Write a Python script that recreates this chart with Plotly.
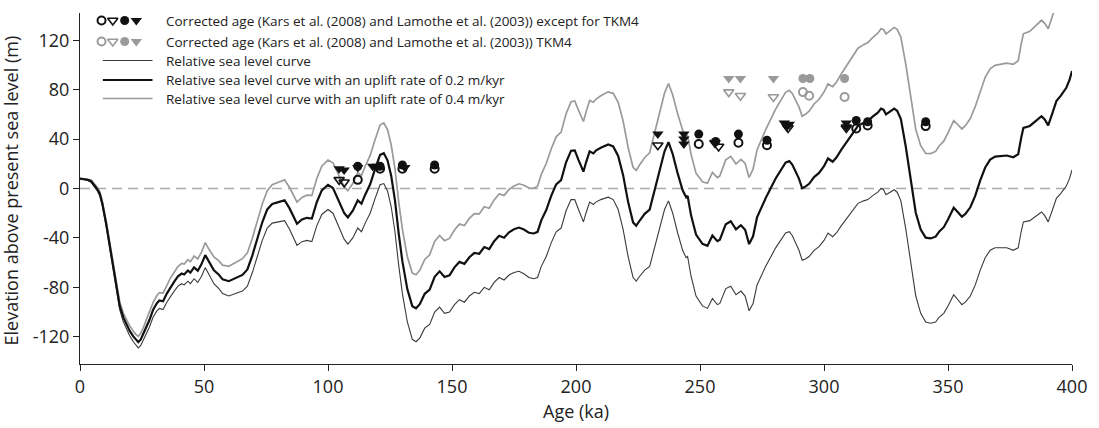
import plotly.graph_objects as go

# ---------------- data ----------------
age = [0, 1.5, 3, 4.5, 6, 7, 8, 9, 10.5, 12, 13.5, 15, 16, 17.5, 19, 20, 21.5, 22.5, 23.5, 24.5,
       25.5, 26.5, 28, 29.5, 31, 32, 33.5, 35, 36.5, 38, 39.5, 41, 42, 43.5, 44.5, 46, 47.5, 49, 50.5, 52,
       54, 56, 57.5, 60, 62.5, 65.5, 67.5, 69.5, 71.5, 73.5, 75.5, 77.5, 80, 82.5, 84.5, 87.5, 89.5, 91.5, 93.5, 95.5,
       97.5, 100, 102, 104, 106.5, 108, 110, 112, 113.5, 115, 117, 119, 121, 122.5, 124, 125.5, 127, 128.5, 130, 132,
       134, 135.5, 137, 139, 141, 143, 145, 147, 149, 151, 153, 155, 157, 159, 161, 163, 165, 167, 169, 171,
       173, 175, 177, 179, 181, 183, 184.5, 186, 188, 190, 192, 194, 196, 198, 199.5, 201, 203, 204, 205.5, 207,
       208, 210, 213, 215, 217, 219, 221, 223, 224.3, 225.7, 227.7, 229.7, 231.7, 233.7, 235.7, 237.3, 239, 241, 243, 244.4,
       245, 246.4, 248.4, 251, 253, 255, 257, 258, 260.4, 262.4, 264.5, 266.5, 268.2, 269.8, 271.4, 273, 276.5, 280.5, 284.5, 286,
       287.2, 289.9, 291.2, 292.5, 294, 296, 298, 300, 301.6, 303.5, 305, 307, 309.6, 311.5, 313.7, 316, 317.7, 319.5, 321.7, 323,
       324, 325, 326.5, 328.3, 329.5, 331, 333, 335, 337, 339, 341, 343, 345, 346.5, 348.3, 350, 352.3, 354, 355.6, 357,
       359, 361, 363, 365, 367, 369, 371, 373.7, 376.3, 378.3, 379.5, 380.4, 383, 385, 387.7, 389, 390.4, 392, 393.7, 395.5,
       397.7, 399, 400]

rsl = [8, 7.5, 6.5, 5, 1, -2, -6, -14, -30, -48, -67, -85, -98, -108, -115, -119, -124, -127, -129, -127,
       -123, -118, -112, -104, -99, -97, -98, -92, -87, -83, -79, -77, -78, -75, -77, -73, -76, -71, -64, -70,
       -77, -81, -85, -87, -85, -83, -79, -68, -55, -42, -32, -28, -27, -26, -33, -46, -43, -42, -43, -30,
       -21, -17, -20, -29, -41, -45, -40, -32, -35, -28, -20, -8, 3, 4, -2, -15, -35, -62, -85, -108,
       -122, -124, -121, -113, -110, -100, -96, -101, -100, -94, -90, -92, -87, -84, -85, -80, -82, -76, -72, -74,
       -70, -68, -67, -69, -72, -73, -72, -63, -55, -44, -35, -32, -18, -9, -9, -17, -27, -20, -11, -13,
       -11, -9, -7, -9, -17, -33, -55, -72, -75, -71, -66, -63, -47, -31, -17, -10, -20, -36, -50, -56,
       -55, -71, -87, -95, -97, -89, -94, -93, -81, -79, -86, -83, -87, -99, -93, -78, -63, -48, -36, -35,
       -38, -50, -58, -57, -55, -50, -47, -42, -36, -39, -36, -30, -23, -17, -12, -10, -9, -6, -3, 0,
       -1, -5, -3, -1, -3, -10, -33, -62, -87, -101, -108, -109, -108, -104, -101, -95, -86, -90, -94, -92,
       -87, -78, -66, -56, -50, -48, -48, -48, -50, -48, -35, -27, -26, -23, -19, -22, -27, -18, -8, -4,
       2, 8, 15]

rsl_02 = [8, 7.8, 7.1, 5.9, 2.2, -0.6, -4.4, -12.2, -27.9, -45.6, -64.3, -82, -94.8, -104.5, -111.2, -115, -119.7, -122.5, -124.3, -122.1,
          -117.9, -112.7, -106.4, -98.1, -92.8, -90.6, -91.3, -85, -79.7, -75.4, -71.1, -68.8, -69.6, -66.3, -68.1, -63.8, -66.5, -61.2, -53.9, -59.6,
          -66.2, -69.8, -73.5, -75, -72.5, -69.9, -65.5, -54.1, -40.7, -27.3, -16.9, -12.5, -11, -9.5, -16.1, -28.5, -25.1, -23.7, -24.3, -10.9,
          -1.5, 3, 0.4, -8.2, -19.7, -23.4, -18, -9.6, -12.3, -5, 3.4, 15.8, 27.2, 28.5, 22.8, 10.1, -9.6, -36.3, -59, -81.6,
          -95.2, -96.9, -93.6, -85.2, -81.8, -71.4, -67, -71.6, -70.2, -63.8, -59.4, -61, -55.6, -52.2, -52.8, -47.4, -49, -42.6, -38.2, -39.8,
          -35.4, -33, -31.6, -33.2, -35.8, -36.4, -35.1, -25.8, -17.4, -6, 3.4, 6.8, 21.2, 30.6, 30.9, 23.2, 13.6, 20.8, 30.1, 28.4,
          30.6, 33, 35.6, 34, 26.4, 10.8, -10.8, -27.4, -30.1, -25.9, -20.5, -17.1, -0.7, 15.7, 30.1, 37.5, 27.8, 12.2, -1.4, -7.1,
          -6, -21.7, -37.3, -44.8, -46.4, -38, -42.6, -41.4, -28.9, -26.5, -33.1, -29.7, -33.4, -45, -38.7, -23.4, -7.7, 8.1, 20.9, 22.2,
          19.4, 8, 0.2, 1.5, 3.8, 9.2, 12.6, 18, 24.3, 21.7, 25, 31.4, 38.9, 45.3, 50.7, 53.2, 54.5, 57.9, 61.3, 64.6,
          63.8, 60, 62.3, 64.7, 62.9, 56.2, 33.6, 5, -19.6, -33.2, -39.8, -40.4, -39, -34.7, -31.3, -25, -15.5, -19.2, -22.9, -20.6,
          -15.2, -5.8, 6.6, 17, 23.4, 25.8, 26.2, 26.7, 25.3, 27.7, 40.9, 49.1, 50.6, 54, 58.5, 55.8, 51.1, 60.4, 70.7, 75.1,
          81.5, 87.8, 95]

rsl_04 = [8, 8.1, 7.7, 6.8, 3.4, 0.8, -2.8, -10.4, -25.8, -43.2, -61.6, -79, -91.6, -101, -107.4, -111, -115.4, -118, -119.6, -117.2,
          -112.8, -107.4, -100.8, -92.2, -86.6, -84.2, -84.6, -78, -72.4, -67.8, -63.2, -60.6, -61.2, -57.6, -59.2, -54.6, -57, -51.4, -43.8, -49.2,
          -55.4, -58.6, -62, -63, -60, -56.8, -52, -40.2, -26.4, -12.6, -1.8, 3, 5, 7, 0.8, -11, -7.2, -5.4, -5.6, 8.2,
          18, 23, 20.8, 12.6, 1.6, -1.8, 4, 12.8, 10.4, 18, 26.8, 39.6, 51.4, 53, 47.6, 35.2, 15.8, -10.6, -33, -55.2,
          -68.4, -69.8, -66.2, -57.4, -53.6, -42.8, -38, -42.2, -40.4, -33.6, -28.8, -30, -24.2, -20.4, -20.6, -14.8, -16, -9.2, -4.4, -5.6,
          -0.8, 2, 3.8, 2.6, 0.4, 0.2, 1.8, 11.4, 20.2, 32, 41.8, 45.6, 60.4, 70.2, 70.8, 63.4, 54.2, 61.6, 71.2, 69.8,
          72.2, 75, 78.2, 77, 69.8, 54.6, 33.4, 17.2, 14.7, 19.3, 25.1, 28.9, 45.7, 62.5, 77.3, 84.9, 75.6, 60.4, 47.2, 41.8,
          43, 27.6, 12.4, 5.4, 4.2, 13, 8.8, 10.2, 23.2, 26, 19.8, 23.6, 20.3, 8.9, 15.6, 31.2, 47.6, 64.2, 77.8, 79.4,
          76.9, 66, 58.5, 60, 62.6, 68.4, 72.2, 78, 84.6, 82.4, 86, 92.8, 100.8, 107.6, 113.5, 116.4, 118.1, 121.8, 125.7, 129.2,
          128.6, 125, 127.6, 130.3, 128.8, 122.4, 100.2, 72, 47.8, 34.6, 28.4, 28.2, 30, 34.6, 38.3, 45, 54.9, 51.6, 48.2, 50.8,
          56.6, 66.4, 79.2, 90, 96.8, 99.6, 100.4, 101.5, 100.5, 103.3, 116.8, 125.2, 127.2, 131, 136.1, 133.6, 129.2, 138.8, 149.5, 154.2,
          161.1, 167.6, 175]

# corrected ages (except TKM4), black
oc_age = [112, 121, 130, 143, 249.5, 265.5, 277, 313, 317.6, 341]
oc_elev = [7, 16, 16, 16, 36, 37, 35, 48.5, 51, 50.5]
ot_age = [104.5, 106.5, 233, 256, 257.5, 285.5, 309]
ot_elev = [7, 5, 35, 37, 34, 49, 49]
fc_age = [112, 121, 130, 143, 249.5, 256.3, 265.5, 277, 313, 317.6, 341]
fc_elev = [18, 18, 19, 19, 44, 38, 44, 39, 55, 54, 54]
ft_age = [104.5, 106.5, 112, 118, 120, 131, 233, 243.5, 243.5, 243.5, 284, 286, 285, 309, 309]
ft_elev = [16, 15, 17, 18, 18, 17, 44, 44, 40, 36, 53, 52, 50, 53, 50]

# corrected ages TKM4, grey
g_oc_age = [291.5, 294, 308.3]
g_oc_elev = [78, 75, 74]
g_ot_age = [261.6, 266.3, 279.6]
g_ot_elev = [78, 75, 74]
g_fc_age = [291.5, 294.3, 308.3]
g_fc_elev = [89, 89, 89]
g_ft_age = [261.6, 266.3, 279.6]
g_ft_elev = [89, 89, 89]

legend_texts = [
    "Corrected age (Kars et al. (2008) and Lamothe et al. (2003)) except for TKM4",
    "Corrected age (Kars et al. (2008) and Lamothe et al. (2003)) TKM4",
    "Relative sea level curve",
    "Relative sea level curve with an uplift rate of 0.2 m/kyr",
    "Relative sea level curve with an uplift rate of 0.4 m/kyr",
]

x_ticks = [0, 50, 100, 150, 200, 250, 300, 350, 400]
y_ticks = [-120, -80, -40, 0, 40, 80, 120]

# ---------------- style ----------------
FONT = "Open Sans, Noto Sans, DejaVu Sans, sans-serif"
BLACK = "#111111"
DARK = "#3a3a3a"
GREY = "#9a9a9a"

fig = go.Figure()

fig.add_trace(go.Scatter(x=age, y=rsl_04, mode="lines", line=dict(color=GREY, width=1.7), showlegend=False, hoverinfo="skip"))
fig.add_trace(go.Scatter(x=age, y=rsl, mode="lines", line=dict(color=DARK, width=1.1), showlegend=False, hoverinfo="skip"))
fig.add_trace(go.Scatter(x=age, y=rsl_02, mode="lines", line=dict(color=BLACK, width=2.2), showlegend=False, hoverinfo="skip"))


def marker_style(symbol, color, size, lw):
    return dict(symbol=symbol, size=size, color=color, line=dict(color=color, width=lw))


def add_markers(xs, ys, symbol, color, size, lw):
    fig.add_trace(go.Scatter(x=xs, y=ys, mode="markers", showlegend=False, hoverinfo="skip",
                             marker=marker_style(symbol, color, size, lw)))


add_markers(g_oc_age, g_oc_elev, "circle-open", GREY, 8, 2)
add_markers(g_ot_age, g_ot_elev, "triangle-down-open", GREY, 9, 1.6)
add_markers(g_fc_age, g_fc_elev, "circle", GREY, 9, 0)
add_markers(g_ft_age, g_ft_elev, "triangle-down", GREY, 10, 0)
add_markers(oc_age, oc_elev, "circle-open", BLACK, 8, 2)
add_markers(ot_age, ot_elev, "triangle-down-open", BLACK, 9, 1.6)
add_markers(fc_age, fc_elev, "circle", BLACK, 9, 0)
add_markers(ft_age, ft_elev, "triangle-down", BLACK, 10, 0)

# ---------------- custom legend (overlay axes in plot-area fraction) ----------------
L_X0, L_W = 80, 999
L_Y1, L_H = 364, 351


def fx(px):
    return (px - L_X0) / L_W


def fy(py):
    return (L_Y1 - py) / L_H


row_y = [20.5, 41.5, 60.5, 80, 98.5]
sym_x = [101.7, 113, 125, 136.7]
sym_defs = [("circle-open", 8, 2), ("triangle-down-open", 9, 1.6), ("circle", 9, 0), ("triangle-down", 10, 0)]
for r, col in ((0, BLACK), (1, GREY)):
    for sx, (sym, sz, lw) in zip(sym_x, sym_defs):
        fig.add_trace(go.Scatter(
            x=[fx(sx)], y=[fy(row_y[r])], xaxis="x2", yaxis="y2", mode="markers",
            showlegend=False, hoverinfo="skip", marker=marker_style(sym, col, sz, lw)))

line_styles = [(DARK, 1.1), (BLACK, 2.2), (GREY, 1.7)]
shapes = []
for r, (c, w) in zip(range(2, 5), line_styles):
    shapes.append(dict(type="line", xref="paper", yref="paper", x0=fx(103), x1=fx(153),
                       y0=fy(row_y[r]), y1=fy(row_y[r]), line=dict(color=c, width=w)))

# zero line
shapes.append(dict(type="line", xref="paper", yref="y", x0=0, x1=1, y0=0, y1=0,
                   line=dict(color="#ababab", width=1.5, dash="10px,6px"), layer="below"))

annotations = []
for r, t in enumerate(legend_texts):
    annotations.append(dict(text=t, xref="paper", yref="paper", x=fx(165), y=fy(row_y[r]),
                            xanchor="left", yanchor="middle", showarrow=False,
                            font=dict(family=FONT, size=13.5, color="#222222")))

annotations.append(dict(text="Elevation above present sea level (m)", xref="paper", yref="paper",
                        x=fx(11), y=fy(190), textangle=-90, xanchor="center", yanchor="middle",
                        showarrow=False, font=dict(family=FONT, size=18, color="#222222")))
annotations.append(dict(text="Age (ka)", xref="paper", yref="paper", x=0.5, y=fy(411),
                        xanchor="center", yanchor="middle", showarrow=False,
                        font=dict(family=FONT, size=18, color="#222222")))

fig.update_layout(
    width=1099, height=428,
    margin=dict(l=80, r=20, t=13, b=64),
    paper_bgcolor="white", plot_bgcolor="white",
    font=dict(family=FONT, size=18, color="#222222"),
    showlegend=False,
    shapes=shapes,
    annotations=annotations,
    xaxis=dict(range=[0, 400], tickvals=x_ticks, ticktext=[str(v) for v in x_ticks],
               showline=True, linecolor="#222222", linewidth=1.2, ticks="outside", ticklen=6,
               tickcolor="#222222", tickwidth=1.2, showgrid=False, zeroline=False,
               tickfont=dict(family=FONT, size=18, color="#222222")),
    yaxis=dict(range=[-142, 142], tickvals=y_ticks, ticktext=[str(v) for v in y_ticks],
               showline=True, linecolor="#222222", linewidth=1.2, ticks="outside", ticklen=6,
               tickcolor="#222222", tickwidth=1.2, showgrid=False, zeroline=False,
               tickfont=dict(family=FONT, size=18, color="#222222")),
    xaxis2=dict(overlaying="x", range=[0, 1], visible=False),
    yaxis2=dict(overlaying="y", range=[0, 1], visible=False),
)

fig.write_html("out.html")
